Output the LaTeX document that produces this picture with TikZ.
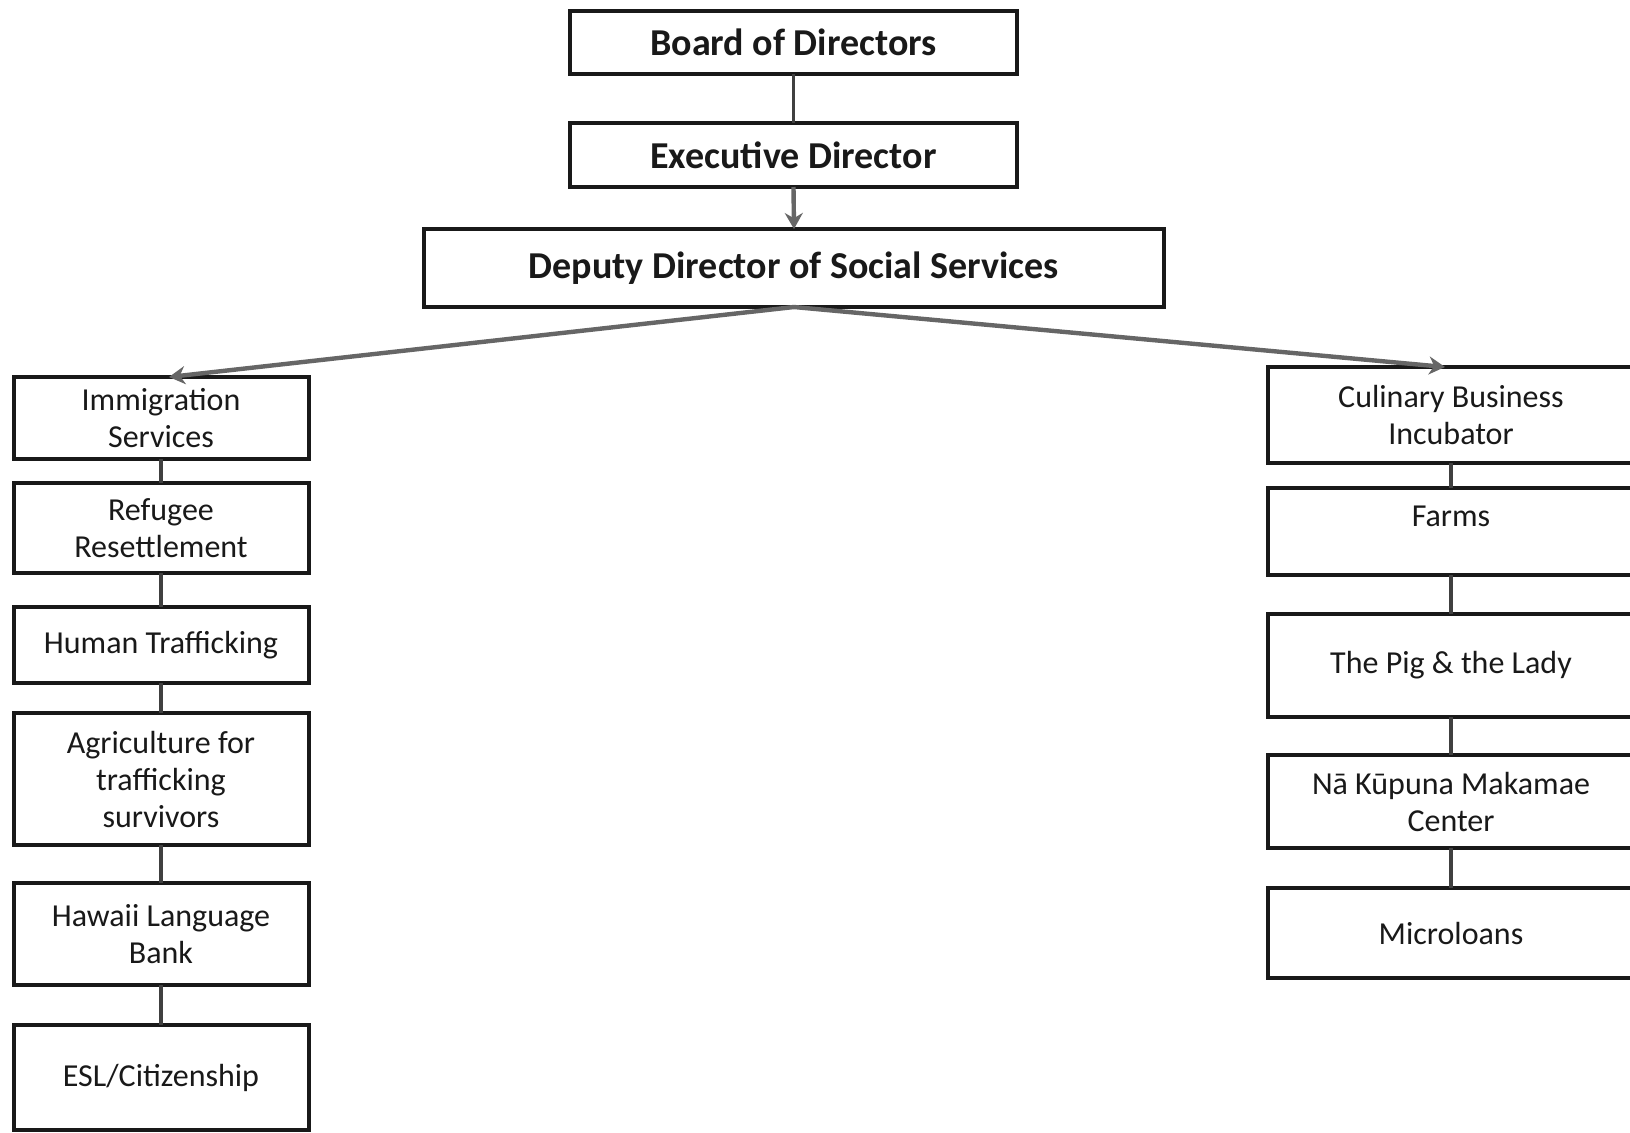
\documentclass[tikz,border=0pt]{standalone}
\usepackage{fontspec}
\setmainfont{Carlito}
\usetikzlibrary{arrows.meta}

\begin{document}
\begin{tikzpicture}[y=0.50pt, x=0.50pt, yscale=-1, inner sep=0pt, outer sep=0pt,
  topbox/.style={draw=black!90,line width=2.4pt,align=center,text=black!90,
    font=\fontsize{19}{22}\selectfont\bfseries},
  sidebox/.style={draw=black!90,line width=2pt,align=center,text=black!90,
    font=\fontsize{16}{18.5}\selectfont},
  link/.style={draw=black!75,line width=1.8pt},
  feed/.style={draw=black!60,line width=2.2pt,-{Stealth[length=8pt,width=9pt]}}]
\useasboundingbox (0,0) rectangle (1630,1132);
\fill[white] (0,0) rectangle (1630,1132);

% top of the chart
\node[topbox,minimum width=223.5pt,minimum height=31.5pt] (board) at (793.5,42.5)
  {Board of Directors};
\node[topbox,minimum width=223.5pt,minimum height=32pt] (executive) at (793.5,155)
  {Executive Director};
\node[topbox,minimum width=370pt,minimum height=39pt] (deputy) at (794,268)
  {Deputy Director of Social Services};

% left column
\node[sidebox,minimum width=147.5pt,minimum height=41pt] (immig) at (161,418)
  {Immigration\\Services};
\node[sidebox,minimum width=147.5pt,minimum height=45pt] (refugee) at (161,528)
  {Refugee\\Resettlement};
\node[sidebox,minimum width=147.5pt,minimum height=38pt] (human) at (161,645)
  {Human Trafficking};
\node[sidebox,minimum width=147.5pt,minimum height=66pt] (agri) at (161,779)
  {Agriculture for\\trafficking\\survivors};
\node[sidebox,minimum width=147.5pt,minimum height=51pt] (hawaii) at (161,934)
  {Hawaii Language\\Bank};
\node[sidebox,minimum width=147.5pt,minimum height=52.5pt] (esl) at (161,1077.5)
  {ESL/Citizenship};

% right column
\node[sidebox,minimum width=183pt,minimum height=48pt] (culinary) at (1451,415)
  {Culinary Business\\Incubator};
\node[sidebox,minimum width=183pt,minimum height=43.5pt,text depth=15pt] (farms) at (1451,531.5)
  {Farms};
\node[sidebox,minimum width=183pt,minimum height=51.5pt] (pig) at (1451,665.5)
  {The Pig \& the Lady};
\node[sidebox,minimum width=183pt,minimum height=46.5pt] (kupuna) at (1451,801.5)
  {Nā Kūpuna Makamae\\Center};
\node[sidebox,minimum width=183pt,minimum height=45pt] (micro) at (1451,933)
  {Microloans};

% connectors
\path[link] (board.south) -- (executive.north);
\path[feed] (executive.south) -- (deputy.north);
\path[feed] (deputy.south) -- ([xshift=4pt]immig.north);
\path[feed] (deputy.south) -- ([xshift=-3pt]culinary.north);
\path[link] (immig.south) -- (refugee.north);
\path[link] (refugee.south) -- (human.north);
\path[link] (human.south) -- (agri.north);
\path[link] (agri.south) -- (hawaii.north);
\path[link] (hawaii.south) -- (esl.north);
\path[link] (culinary.south) -- (farms.north);
\path[link] (farms.south) -- (pig.north);
\path[link] (pig.south) -- (kupuna.north);
\path[link] (kupuna.south) -- (micro.north);

\end{tikzpicture}
\end{document}
